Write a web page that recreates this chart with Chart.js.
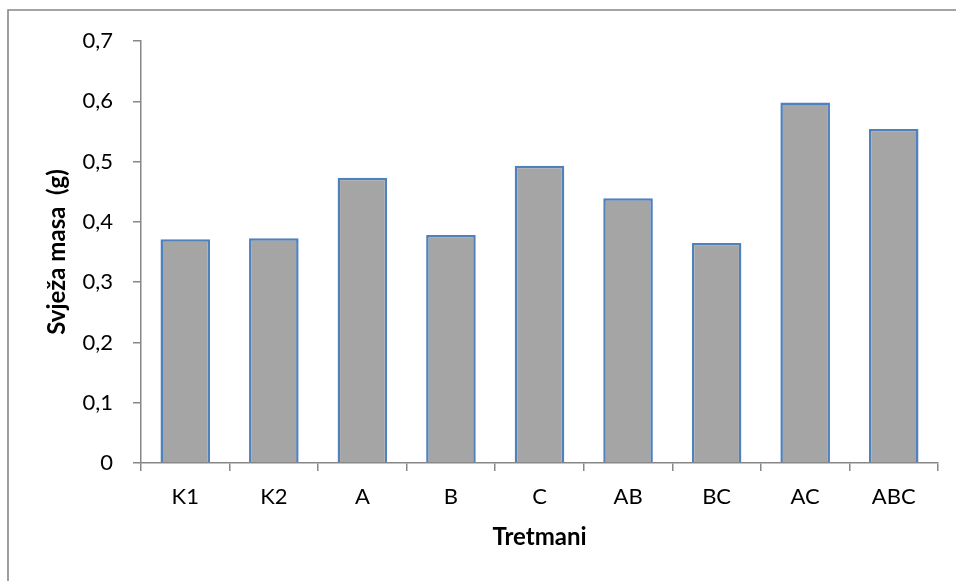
<!DOCTYPE html>
<html>
<head>
<meta charset="utf-8">
<script src="https://cdn.jsdelivr.net/npm/chart.js@4/dist/chart.umd.min.js"></script>
<style>
  html, body { margin: 0; padding: 0; background: #fff; }
  #wrap { position: relative; width: 956px; height: 581px; }
</style>
</head>
<body>
<div id="wrap"><canvas id="c" width="956" height="581"></canvas></div>
<script>
const categories = ['K1', 'K2', 'A', 'B', 'C', 'AB', 'BC', 'AC', 'ABC'];
const values = [0.371, 0.373, 0.473, 0.378, 0.493, 0.439, 0.365, 0.598, 0.554];
const yTicks = [0, 0.1, 0.2, 0.3, 0.4, 0.5, 0.6, 0.7];
const yTitle = 'Svježa masa  (g)';
const xTitle = 'Tretmani';

const frame = {
  id: 'frame',
  beforeDraw(chart) {
    const ctx = chart.ctx;
    ctx.save();
    ctx.fillStyle = '#fff';
    ctx.fillRect(0, 0, chart.width, chart.height);
    ctx.strokeStyle = '#878787';
    ctx.lineWidth = 1.6;
    ctx.beginPath();
    ctx.moveTo(8, chart.height);
    ctx.lineTo(8, 10);
    ctx.lineTo(chart.width, 10);
    ctx.stroke();
    ctx.restore();
  }
};

new Chart(document.getElementById('c'), {
  type: 'bar',
  data: {
    labels: categories,
    datasets: [{
      data: values,
      backgroundColor: '#A5A5A5',
      borderColor: '#4F81BD',
      borderWidth: 2.5,
      categoryPercentage: 1,
      barPercentage: 0.56
    }]
  },
  options: {
    responsive: false,
    animation: false,
    devicePixelRatio: 1,
    layout: { padding: { left: 0, top: 41, right: 18, bottom: 0 } },
    plugins: { legend: { display: false }, tooltip: { enabled: false } },
    scales: {
      x: {
        offset: true,
        grid: { offset: true, drawOnChartArea: false, drawTicks: true, tickLength: 8, color: '#878787', lineWidth: 1.5 },
        border: { display: true, color: '#878787', width: 1.5 },
        ticks: { color: '#000', font: { family: 'Lato', size: 22 }, padding: 13, maxRotation: 0 },
        title: { display: true, text: xTitle, color: '#000', font: { family: 'Lato', size: 24, weight: 'bold' }, padding: { top: 0, bottom: 29 } },
        afterFit(scale) { scale.height = 118; }
      },
      y: {
        min: 0, max: 0.7,
        afterBuildTicks(scale) { scale.ticks = yTicks.map(v => ({ value: v })); },
        grid: { drawOnChartArea: false, drawTicks: true, tickLength: 8, color: '#878787', lineWidth: 1.5 },
        border: { display: true, color: '#878787', width: 1.5 },
        ticks: {
          color: '#000', font: { family: 'Lato', size: 22 }, padding: 20,
          callback: v => String(Math.round(v * 10) / 10).replace('.', ',')
        },
        title: { display: true, text: yTitle, color: '#000', font: { family: 'Lato', size: 24, weight: 'bold' }, padding: { top: 43, bottom: 0 } },
        afterFit(scale) { scale.width = 141; }
      }
    }
  },
  plugins: [frame]
});
</script>
</body>
</html>
